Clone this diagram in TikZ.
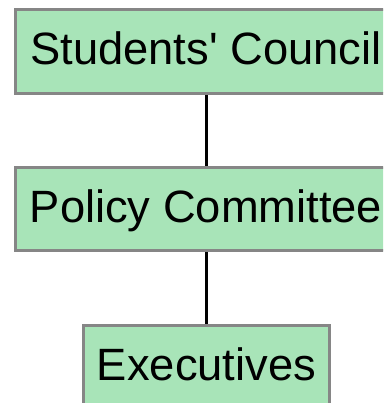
\documentclass[tikz,border=0pt]{standalone}
\usepackage{fontspec}
\setmainfont{Liberation Sans}
\font\rawLS="Liberation Sans" at 45.3pt
\definecolor{boxfill}{HTML}{A8E4B8}
\definecolor{boxedge}{HTML}{868686}
\begin{document}
\begin{tikzpicture}[x=1pt,y=-1pt,
  orgbox/.style={draw=boxedge,line width=3pt,fill=boxfill,rectangle,inner sep=0pt,
    minimum height=84pt,text height=32pt,text depth=6pt,
    font=\rawLS},
  link/.style={draw=black,line width=3pt}]
\useasboundingbox (0,0) rectangle (383,403);
\clip (0,0) rectangle (383,403);
\node[orgbox,minimum width=382pt] (council) at (206,51.5) {Students\char"27\ Council};
\node[orgbox,minimum width=382pt,minimum height=83pt] (policy) at (206,209) {Policy Committee};
\node[orgbox,minimum width=246pt] (exec) at (206.5,367.5) {Executives};
\draw[link] (council.south -| 206,0) -- (policy.north -| 206,0);
\draw[link] (policy.south -| 206,0) -- (exec.north -| 206,0);
\end{tikzpicture}
\end{document}
